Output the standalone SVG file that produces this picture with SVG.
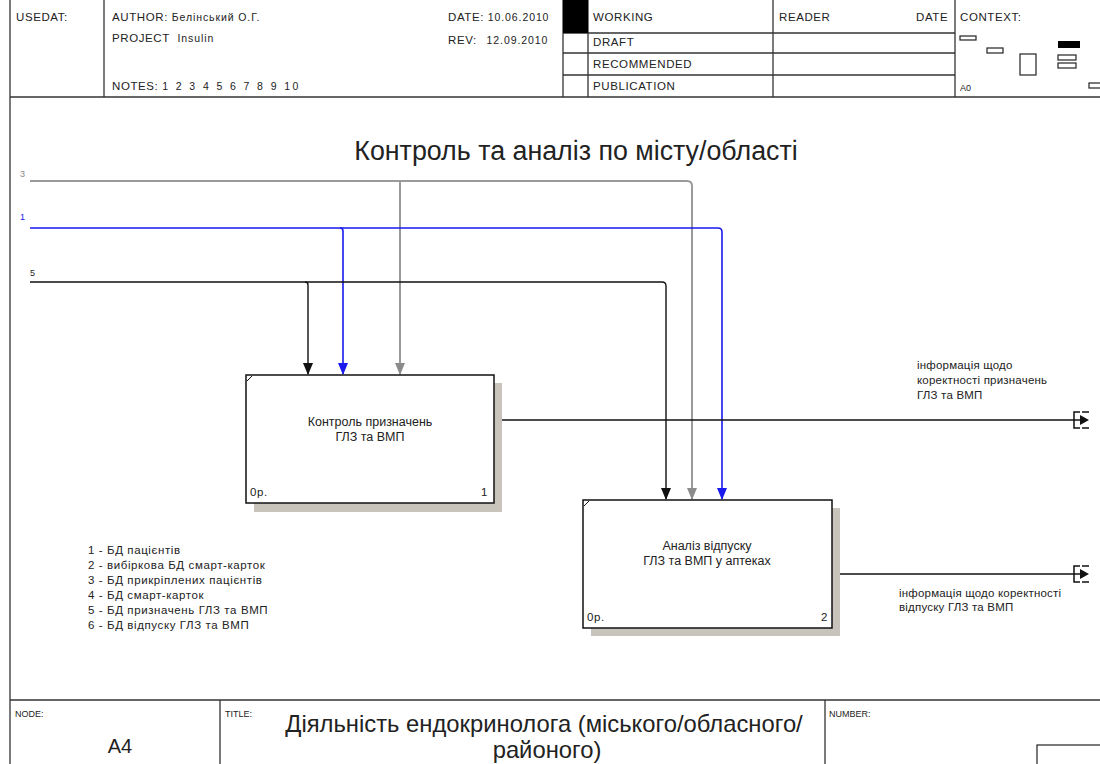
<svg xmlns="http://www.w3.org/2000/svg" width="1100" height="764" viewBox="0 0 1100 764">
<defs>
<style>
text{font-family:"Liberation Sans",Arial,sans-serif;fill:#222}
.hd{font-size:11.5px;letter-spacing:0.6px}
.hv{font-size:10.5px;letter-spacing:0.9px}
.sm{font-size:9px}
.bx{font-size:12.5px}
.lg{font-size:11.5px;letter-spacing:0.6px}
.ol{font-size:11.5px;letter-spacing:0.2px}
.frame{stroke:#333;stroke-width:1.3;fill:none}
.grey{stroke:#9a9a9a;stroke-width:2;fill:none}
.blue{stroke:#1a1aee;stroke-width:1.6;fill:none}
.blk{stroke:#111;stroke-width:1.4;fill:none}
</style>
<marker id="aBlk" markerWidth="10" markerHeight="12" refX="5" refY="11" markerUnits="userSpaceOnUse" viewBox="0 0 10 12"><path d="M0,0 L10,0 L5,12 Z" fill="#111"/></marker>
<marker id="aBlue" markerWidth="10" markerHeight="12" refX="5" refY="11" markerUnits="userSpaceOnUse" viewBox="0 0 10 12"><path d="M0,0 L10,0 L5,12 Z" fill="#1a1aee"/></marker>
<marker id="aGrey" markerWidth="10" markerHeight="12" refX="5" refY="11" markerUnits="userSpaceOnUse" viewBox="0 0 10 12"><path d="M0,0 L10,0 L5,12 Z" fill="#8c8c8c"/></marker>
</defs>
<rect width="1100" height="764" fill="#fff"/>

<g id="header">
<line class="frame" x1="10" y1="0" x2="10" y2="764"/>
<line class="frame" x1="104" y1="0" x2="104" y2="97"/>
<line class="frame" x1="563" y1="0" x2="563" y2="97"/>
<line class="frame" x1="588" y1="0" x2="588" y2="97"/>
<line class="frame" x1="773" y1="0" x2="773" y2="97"/>
<line class="frame" x1="955" y1="0" x2="955" y2="97"/>
<line class="frame" x1="563" y1="33" x2="955" y2="33"/>
<line class="frame" x1="563" y1="53" x2="955" y2="53"/>
<line class="frame" x1="563" y1="75" x2="955" y2="75"/>
<line class="frame" x1="10" y1="97" x2="1100" y2="97"/>
<rect x="563" y="0" width="25" height="33" fill="#000"/>
<text class="hd" x="16" y="21">USEDAT:</text>
<text class="hd" x="112" y="21">AUTHOR: <tspan class="hv">Белінський О.Г.</tspan></text>
<text class="hd" x="112" y="42">PROJECT <tspan class="hv" dx="4">Insulin</tspan></text>
<text class="hd" x="112" y="90">NOTES: <tspan class="hv" style="letter-spacing:2.4px">1 2 3 4 5 6 7 8 9 10</tspan></text>
<text class="hd" x="448" y="21">DATE: <tspan class="hv">10.06.2010</tspan></text>
<text class="hd" x="448" y="44">REV: <tspan class="hv" dx="6">12.09.2010</tspan></text>
<text class="hd" x="593" y="21">WORKING</text>
<text class="hd" x="593" y="46">DRAFT</text>
<text class="hd" x="593" y="68">RECOMMENDED</text>
<text class="hd" x="593" y="90">PUBLICATION</text>
<text class="hd" x="779" y="21">READER</text>
<text class="hd" x="916" y="21">DATE</text>
<text class="hd" x="960" y="21">CONTEXT:</text>
<text class="sm" x="960" y="91">A0</text>
<g fill="none" stroke="#222" stroke-width="1.2">
<rect x="960" y="36" width="16" height="4"/>
<rect x="987" y="48" width="16" height="5"/>
<rect x="1020" y="54" width="16" height="21"/>
<rect x="1058" y="55" width="18" height="5"/>
<rect x="1058" y="63" width="18" height="5"/>
<rect x="1089" y="83" width="14" height="5"/>
</g>
<rect x="1058" y="41" width="22" height="7" fill="#000"/>
</g>

<text x="576" y="160" text-anchor="middle" font-size="26.8" style="font-family:'Liberation Sans',Arial,sans-serif">Контроль та аналіз по місту/області</text>

<g id="connectors">
<path class="grey" d="M30,181 H687 Q692,181 692,186 V499" marker-end="url(#aGrey)"/>
<path class="grey" d="M400,181 V374" marker-end="url(#aGrey)"/>
<path class="blue" d="M30,228 H718 Q722,228 722,232 V499" marker-end="url(#aBlue)"/>
<path class="blue" d="M340,228 Q343,228 343,231 V374" marker-end="url(#aBlue)"/>
<path class="blk" d="M30,282 H662 Q666,282 666,286 V499" marker-end="url(#aBlk)"/>
<path class="blk" d="M305,282 Q308,282 308,285 V374" marker-end="url(#aBlk)"/>
<path class="blk" d="M494,420 H1087"/>
<path d="M1080,415 L1089,420 L1080,425 Z" fill="#111"/>
<path d="M1080,412 H1074 V428 H1080" fill="none" stroke="#111" stroke-width="1.5"/>
<path d="M1082,412 H1089 M1082,428 H1089" stroke="#111" stroke-width="1.5"/>
<path class="blk" d="M832,574 H1087"/>
<path d="M1080,569 L1089,574 L1080,579 Z" fill="#111"/>
<path d="M1080,566 H1074 V582 H1080" fill="none" stroke="#111" stroke-width="1.5"/>
<path d="M1082,566 H1089 M1082,582 H1089" stroke="#111" stroke-width="1.5"/>
<text class="sm" x="20" y="177" style="fill:#888">3</text>
<text class="sm" x="20" y="220" style="fill:#1a1aee">1</text>
<text class="sm" x="30" y="276">5</text>
<text class="ol" x="917" y="369">інформація щодо</text>
<text class="ol" x="917" y="384">коректності призначень</text>
<text class="ol" x="917" y="399">ГЛЗ та ВМП</text>
<text class="ol" x="899" y="597">інформація щодо коректності</text>
<text class="ol" x="899" y="611">відпуску ГЛЗ та ВМП</text>
</g>

<g id="node1">
<rect x="254" y="383" width="248" height="129" fill="#c8c4bc"/>
<rect x="246" y="375" width="248" height="128" fill="#fff" stroke="#111" stroke-width="1.5"/>
<line x1="247" y1="381" x2="252" y2="376" stroke="#111" stroke-width="1"/>
<text class="bx" x="370" y="426" text-anchor="middle">Контроль призначень</text>
<text class="bx" x="370" y="441" text-anchor="middle">ГЛЗ та ВМП</text>
<text class="lg" x="250" y="496">0р.</text>
<text class="lg" x="481" y="496">1</text>
</g>

<g id="node2">
<rect x="591" y="508" width="249" height="128" fill="#c8c4bc"/>
<rect x="583" y="500" width="249" height="128" fill="#fff" stroke="#111" stroke-width="1.5"/>
<line x1="584" y1="506" x2="589" y2="501" stroke="#111" stroke-width="1"/>
<text class="bx" x="707" y="550" text-anchor="middle">Аналіз відпуску</text>
<text class="bx" x="707" y="565" text-anchor="middle">ГЛЗ та ВМП у аптеках</text>
<text class="lg" x="587" y="621">0р.</text>
<text class="lg" x="821" y="621">2</text>
</g>

<g id="legend">
<text class="lg" x="88" y="554">1 - БД пацієнтів</text>
<text class="lg" x="88" y="569">2 - вибіркова БД смарт-карток</text>
<text class="lg" x="88" y="584">3 - БД прикріплених пацієнтів</text>
<text class="lg" x="88" y="599">4 - БД смарт-карток</text>
<text class="lg" x="88" y="614">5 - БД призначень ГЛЗ та ВМП</text>
<text class="lg" x="88" y="629">6 - БД відпуску ГЛЗ та ВМП</text>
</g>

<g id="footer">
<line class="frame" x1="10" y1="700" x2="1100" y2="700"/>
<line class="frame" x1="220" y1="700" x2="220" y2="764"/>
<line class="frame" x1="825" y1="700" x2="825" y2="764"/>
<rect x="1037" y="745" width="70" height="30" fill="none" stroke="#222" stroke-width="1.2"/>
<text class="sm" x="15" y="717">NODE:</text>
<text x="120" y="753" text-anchor="middle" font-size="20">A4</text>
<text class="sm" x="225" y="717">TITLE:</text>
<text x="544" y="732" text-anchor="middle" font-size="23.8">Діяльність  ендокринолога (міського/обласного/</text>
<text x="547" y="758" text-anchor="middle" font-size="23.8">районого)</text>
<text class="sm" x="829" y="717">NUMBER:</text>
</g>
</svg>
